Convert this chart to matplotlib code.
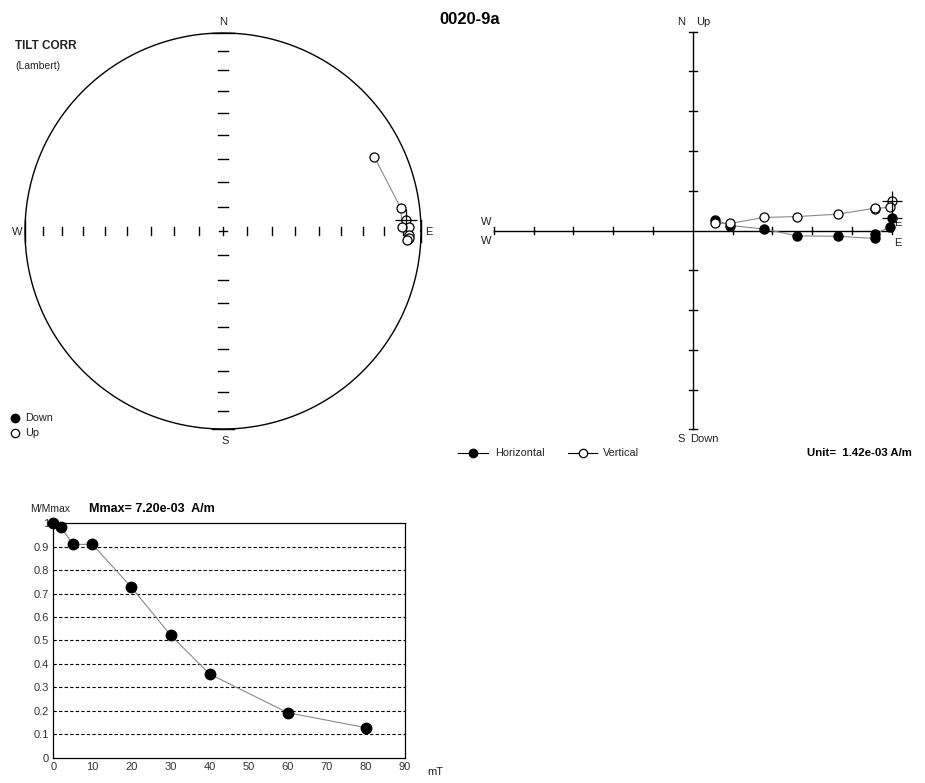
import numpy as np
import matplotlib
matplotlib.use("Agg")
import matplotlib.pyplot as plt

plt.rcParams["font.family"] = ["Liberation Sans", "DejaVu Sans"]

SAMPLE = "0020-9a"
STEPS_MT = [0, 2, 5, 10, 20, 30, 40, 60, 80]
M_NORM = [1.0, 0.983, 0.91, 0.91, 0.727, 0.523, 0.357, 0.192, 0.128]
DEC = [86.5, 88.9, 91.2, 92.5, 92.3, 92.9, 88.8, 82.5, 64.0]
INC = [-8.3, -6.8, -6.8, -7.0, -6.4, -7.6, -10.4, -10.5, -16.0]
MMAX = 7.20e-03       # A/m
UNIT = 1.42e-03       # A/m per Zijderveld tick

W, H = 925, 783
fig = plt.figure(figsize=(W / 100, H / 100), dpi=100)
fig.patch.set_facecolor("white")

LINE_C = "#8a8a8a"
TXT_C = "#222222"


def px_axes(x0, y0, w, h):
    """axes placed by pixel box (top-left origin)"""
    ax = fig.add_axes([x0 / W, 1 - (y0 + h) / H, w / W, h / H])
    ax.set_facecolor("none")
    return ax


def ftext(x, y, s, **kw):
    kw.setdefault("fontsize", 8)
    kw.setdefault("va", "center")
    kw.setdefault("color", TXT_C)
    fig.text(x / W, 1 - y / H, s, **kw)


dec = np.radians(DEC)
inc = np.radians(INC)
m = np.array(M_NORM)

# ---------------- equal-area stereonet ----------------
CX, CY, R = 223, 231, 198
ax_s = px_axes(CX - 1.05 * R, CY - 1.05 * R, 2.1 * R, 2.1 * R)
ax_s.set_xlim(-1.05, 1.05)
ax_s.set_ylim(-1.05, 1.05)
ax_s.axis("off")

t = np.linspace(0, 2 * np.pi, 400)
ax_s.plot(np.cos(t), np.sin(t), color="black", lw=1.0)
k = 0.055
for a, b in [((-k, k), (1, 1)), ((-k, k), (-1, -1))]:
    ax_s.plot(a, b, color="black", lw=1.0)
for a, b in [((1, 1), (-k, k)), ((-1, -1), (-k, k))]:
    ax_s.plot(a, b, color="black", lw=1.0)

tick_inc = np.radians(np.arange(10, 90, 10))
tick_r = np.sqrt(2) * np.sin((np.pi / 2 - tick_inc) / 2)
for r in tick_r:
    for s in (1, -1):
        ax_s.plot([s * r, s * r], [-0.022, 0.022], color="black", lw=1.0)
        ax_s.plot([-0.025, 0.025], [s * r, s * r], color="black", lw=1.0)
ax_s.plot([-0.018, 0.018], [0, 0], color="black", lw=1.0)
ax_s.plot([0, 0], [-0.018, 0.018], color="black", lw=1.0)

r_pt = np.sqrt(2) * np.sin((np.pi / 2 - np.abs(inc)) / 2)
sx = r_pt * np.sin(dec)
sy = r_pt * np.cos(dec)
ax_s.plot(sx, sy, color=LINE_C, lw=0.8, zorder=2)
up = inc < 0
ax_s.plot(sx[up], sy[up], "o", ms=6.5, mfc="white", mec="black", mew=0.9, ls="none", zorder=3)
ax_s.plot(sx[~up], sy[~up], "o", ms=6.5, mfc="black", mec="black", ls="none", zorder=3)
ax_s.plot(sx[0], sy[0], "+", ms=16, color="black", mew=0.9, zorder=4)

ftext(223, 22, "N", ha="center")
ftext(225, 441, "S", ha="center")
ftext(17, 232, "W", ha="center")
ftext(429, 232, "E", ha="center")
ftext(15, 46, "TILT CORR", fontsize=8.5, fontweight="bold")
ftext(15, 66, "(Lambert)", fontsize=7.5)

ax_l = px_axes(0, 410, 60, 30)
ax_l.set_xlim(0, 60)
ax_l.set_ylim(30, 0)
ax_l.axis("off")
ax_l.plot([15], [8], "o", ms=6, mfc="black", mec="black")
ax_l.plot([15], [23], "o", ms=6, mfc="white", mec="black", mew=0.9)
ftext(25, 418, "Down", fontsize=7.8)
ftext(25, 433, "Up", fontsize=7.8)

ftext(470, 19, SAMPLE, fontsize=12, fontweight="bold", ha="center", color="black")

# ---------------- Zijderveld ----------------
OX, OY, PX = 692.7, 230.5, 39.8
ax_z = px_axes(OX - 5.3 * PX, OY - 5.3 * PX, 10.6 * PX, 10.6 * PX)
ax_z.set_xlim(-5.3, 5.3)
ax_z.set_ylim(-5.3, 5.3)
ax_z.axis("off")
ax_z.plot([-5, 5], [0, 0], color="black", lw=1.0)
ax_z.plot([0, 0], [-5, 5], color="black", lw=1.0)
for v in range(-5, 6):
    if v == 0:
        continue
    ax_z.plot([v, v], [-0.1, 0.1], color="black", lw=1.0)
    ax_z.plot([-0.1, 0.1], [v, v], color="black", lw=1.0)

mag = m * MMAX / UNIT
ze = mag * np.cos(inc) * np.sin(dec)
zn = mag * np.cos(inc) * np.cos(dec)
zu = -mag * np.sin(inc)
ax_z.plot(ze, zn, color=LINE_C, lw=0.8, zorder=2)
ax_z.plot(ze, zu, color=LINE_C, lw=0.8, zorder=2)
ax_z.plot(ze, zn, "o", ms=6.5, mfc="black", mec="black", ls="none", zorder=3, clip_on=False)
ax_z.plot(ze, zu, "o", ms=6.5, mfc="white", mec="black", mew=0.9, ls="none", zorder=3, clip_on=False)
ax_z.plot([ze[0], ze[0]], [zn[0], zu[0]], "+", ms=15, color="black", mew=0.9, zorder=4, ls="none")

ftext(681, 22, "N", ha="center")
ftext(703, 22, "Up", ha="center")
ftext(681, 439, "S", ha="center")
ftext(704, 439, "Down", ha="center")
ftext(486, 222, "W", ha="center")
ftext(486, 241, "W", ha="center")
ftext(898, 223, "E", ha="center")
ftext(898, 243, "E", ha="center")

ax_zl = px_axes(450, 440, 200, 26)
ax_zl.set_xlim(450, 650)
ax_zl.set_ylim(466, 440)
ax_zl.axis("off")
ax_zl.plot([458, 488], [453, 453], color="black", lw=0.8)
ax_zl.plot([473], [453], "o", ms=6, mfc="black", mec="black")
ax_zl.plot([568, 597], [453, 453], color="black", lw=0.8)
ax_zl.plot([583], [453], "o", ms=6, mfc="white", mec="black", mew=0.9)
ftext(495, 453, "Horizontal", fontsize=7.8)
ftext(603, 453, "Vertical", fontsize=7.8)
ftext(807, 453, f"Unit=  {UNIT:.2e} A/m", fontsize=8.2, fontweight="bold", color="black")

# ---------------- demagnetisation curve ----------------
ax_d = px_axes(53.3, 523.3, 351.7, 234.4)
ax_d.set_xlim(0, 90)
ax_d.set_ylim(0, 1)
ax_d.plot(STEPS_MT, M_NORM, color=LINE_C, lw=0.8, zorder=2)
ax_d.plot(STEPS_MT, M_NORM, "o", ms=7.5, mfc="black", mec="black", ls="none", zorder=3, clip_on=False)
for yv in np.arange(0.1, 0.95, 0.1):
    ax_d.axhline(yv, color="black", lw=0.8, ls=(0, (3, 2)), zorder=1)
ax_d.set_xticks(range(0, 91, 10))
ax_d.set_yticks(np.arange(0, 1.01, 0.1))
ax_d.set_yticklabels(["0"] + [f"{v:.1f}" for v in np.arange(0.1, 0.95, 0.1)] + ["1"])
ax_d.tick_params(length=0, labelsize=8, colors="#333333", pad=3)
for sp in ax_d.spines.values():
    sp.set_color("black")
    sp.set_linewidth(0.9)
ftext(30, 509, "M/Mmax", fontsize=7.5)
ftext(89, 509, f"Mmax= {MMAX:.2e}  A/m", fontsize=9, fontweight="bold", color="black")
ftext(427, 772, "mT", fontsize=8)

fig.savefig("out.png", dpi=100)
